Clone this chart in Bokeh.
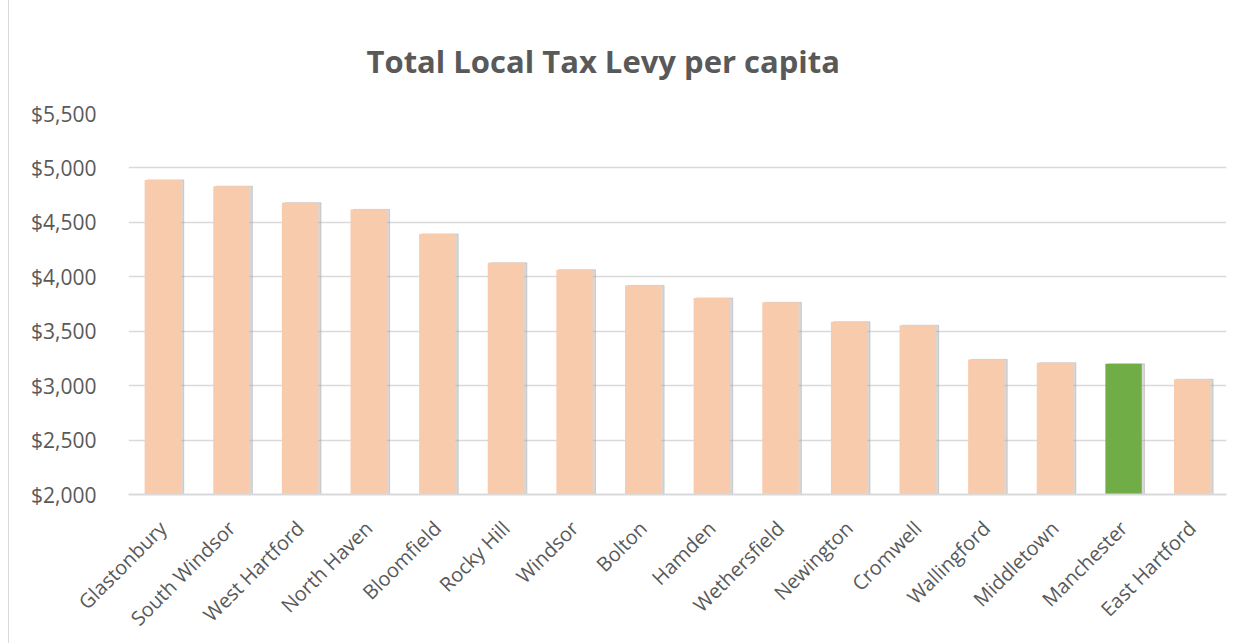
from bokeh.plotting import figure
from bokeh.models import NumeralTickFormatter, FactorRange, Range1d, ColumnDataSource, Spacer
from bokeh.layouts import row
from bokeh.transform import dodge
from bokeh.embed import file_html
from bokeh.resources import INLINE
import math

towns = ["Glastonbury", "South Windsor", "West Hartford", "North Haven", "Bloomfield",
         "Rocky Hill", "Windsor", "Bolton", "Hamden", "Wethersfield", "Newington",
         "Cromwell", "Wallingford", "Middletown", "Manchester", "East Hartford"]
levy = [4890, 4832, 4680, 4619, 4394, 4128, 4064, 3921, 3805, 3765, 3586,
        3555, 3241, 3210, 3200, 3059]
highlight = "Manchester"
y_ticks = [2000, 2500, 3000, 3500, 4000, 4500, 5000, 5500]

colors = ["#70AD47" if t == highlight else "#F8CBAD" for t in towns]
src = ColumnDataSource(dict(town=towns, levy=levy, color=colors))

p = figure(width=1241, height=643, output_backend="svg", toolbar_location=None,
           x_range=FactorRange(*towns, range_padding=0), y_range=Range1d(2000, 5500),
           min_border_left=119, min_border_right=24, min_border_bottom=147,
           min_border_top=113, title="Total Local Tax Levy per capita")
p.styles = {"border-left": "1px solid #d9d9d9"}

p.title.text_font = "Open Sans"
p.title.text_font_style = "bold"
p.title.text_font_size = "31px"
p.title.text_color = "#595959"
p.title.align = "left"
p.title.offset = 238
p.title.standoff = 64

# shadow
p.vbar(x=dodge("town", 0.04, range=p.x_range), top="levy", bottom=2000, width=0.53,
       source=src, color="#a6a6a6", alpha=0.45)
p.vbar(x="town", top="levy", bottom=2000, width=0.53, source=src,
       fill_color="color", line_color=None)

p.outline_line_color = None
p.xgrid.grid_line_color = None
p.ygrid.grid_line_color = "#d9d9d9"
p.ygrid.grid_line_width = 1.5
p.yaxis.ticker = y_ticks
p.yaxis.formatter = NumeralTickFormatter(format="$0,0")
p.yaxis.axis_line_color = None
p.yaxis.major_tick_line_color = None
p.yaxis.minor_tick_line_color = None
p.yaxis.major_label_text_font = "Open Sans"
p.yaxis.major_label_text_font_size = "21px"
p.yaxis.major_label_text_color = "#595959"
p.yaxis.major_label_standoff = 26

p.xaxis.axis_line_color = "#d9d9d9"
p.xaxis.axis_line_width = 2
p.xaxis.major_tick_line_color = None
p.xaxis.major_label_orientation = math.pi / 4
p.xaxis.major_label_text_font = "Open Sans"
p.xaxis.major_label_text_font_size = "20px"
p.xaxis.major_label_text_color = "#595959"
p.xaxis.major_label_standoff = 24

layout = row(Spacer(width=8, height=643), p)
open("out.html", "w").write(file_html(layout, INLINE))
